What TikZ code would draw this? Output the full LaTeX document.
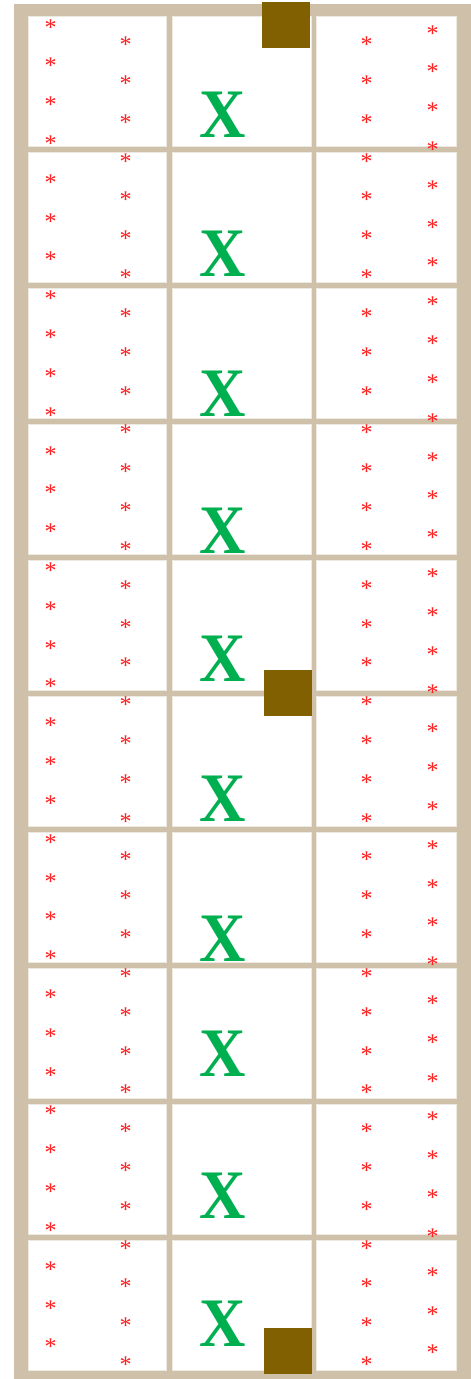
\documentclass[tikz,border=0pt]{standalone}
\usepackage{fontspec}
\newfontfamily\xfont{Liberation Serif}
\definecolor{framecol}{HTML}{CFC0AA}
\definecolor{cellline}{HTML}{EDE8E0}
\definecolor{boxbrown}{HTML}{806000}
\definecolor{xgreen}{HTML}{00B050}
\definecolor{starred}{HTML}{FF2020}
\tikzset{
  cellbox/.style={fill=white,draw=cellline,line width=0.8pt},
  xmark/.style={font=\xfont\bfseries\fontsize{69.5}{70}\selectfont,text=xgreen,inner sep=0pt,anchor=base,xscale=0.925},
  astk/.style={font=\xfont\fontsize{24}{24}\selectfont,text=starred,inner sep=0pt,anchor=base},
  brownsq/.style={fill=boxbrown}
}
\begin{document}
\begin{tikzpicture}[x=1pt,y=-1pt]
\useasboundingbox (0,0) rectangle (471,1379);
% outer frame
\fill[framecol] (14,4.3) rectangle (470.7,1386);
% cells
\foreach \r in {0,...,9} {
  \foreach \a/\b in {28/166.7,172.3/311,316.7/456} {
    \path[cellbox] ({\a},{16.7+136*\r}) rectangle ({\b},{146.7+136*\r});
  }
}
% brown squares
\fill[brownsq] (262,1.7) rectangle (310,47.7);
\fill[brownsq] (264,670) rectangle (312,715.7);
\fill[brownsq] (264,1328.3) rectangle (312,1374);
% green X marks
\foreach \yb [count=\i] in {137.5,276,416,553.3,681.7,821,961.7,1076,1218.3,1346.7} {
  \node[xmark] (x\i) at (222.5,\yb) {X};
}
% asterisks
\foreach \k in {0,...,34} {
  \node[astk] (a\k) at (50.5,{23.8+38.82*\k+11.2}) {*};
  \node[astk] (b\k) at (125.5,{41.5+38.82*\k+11.2}) {*};
  \node[astk] (c\k) at (366.5,{41.5+38.82*\k+11.2}) {*};
  \node[astk] (d\k) at (432.5,{29.8+38.82*\k+11.2}) {*};
}
\end{tikzpicture}
\end{document}
